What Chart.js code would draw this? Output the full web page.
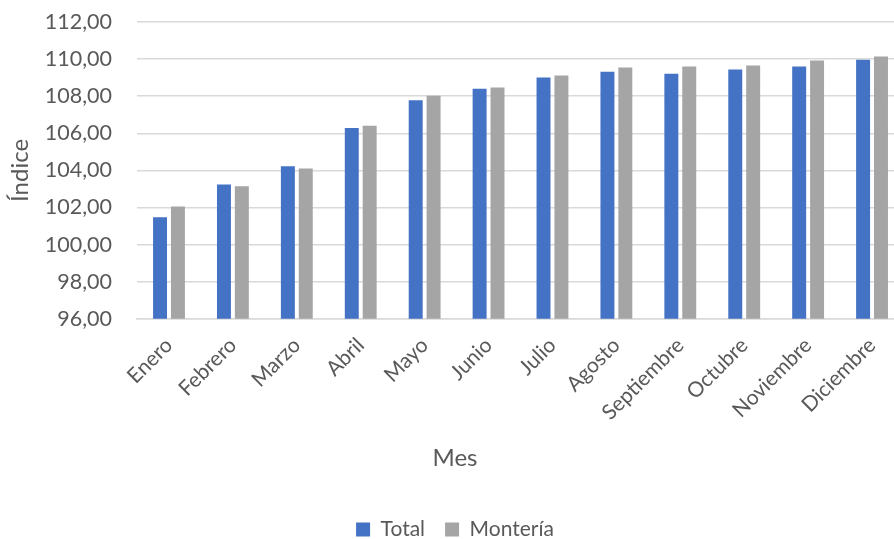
<!DOCTYPE html>
<html>
<head>
<meta charset="utf-8">
<script src="https://cdn.jsdelivr.net/npm/chart.js@4/dist/chart.umd.min.js"></script>
<style>
  html, body { margin: 0; padding: 0; background: #fff; overflow: hidden; }
  #wrap { width: 894px; height: 539px; overflow: hidden; }
</style>
</head>
<body>
<div id="wrap"><canvas id="grafico" width="912" height="539"></canvas></div>
<script>
const meses = ['Enero', 'Febrero', 'Marzo', 'Abril', 'Mayo', 'Junio', 'Julio',
    'Agosto', 'Septiembre', 'Octubre', 'Noviembre', 'Diciembre'];
const total = [101.48, 103.24, 104.23, 106.29, 107.78, 108.40, 109.01,
    109.32, 109.21, 109.44, 109.60, 109.96];
const monteria = [102.05, 103.15, 104.11, 106.41, 108.02, 108.47, 109.12,
    109.55, 109.60, 109.66, 109.93, 110.14];
const ejeY = { min: 96, max: 112, paso: 2 };

const fuente = 'Lato, "Open Sans", sans-serif';
const gris = '#595959';

function formatoIndice(value) {
    return value.toFixed(2).replace('.', ',');
}

const ctx = document.getElementById('grafico');

new Chart(ctx, {
    type: 'bar',
    data: {
        labels: meses,
        datasets: [
            { label: 'Total', data: total, backgroundColor: '#4472C4' },
            { label: 'Montería', data: monteria, backgroundColor: '#A5A5A5' }
        ]
    },
    options: {
        responsive: false,
        animation: false,
        categoryPercentage: 0.56,
        barPercentage: 0.78,
        layout: { padding: { top: 22, right: 8, left: 6, bottom: -11 } },
        plugins: {
            legend: {
                position: 'bottom',
                weight: 3000,
                labels: {
                    boxWidth: 14,
                    boxHeight: 14,
                    padding: 20,
                    color: gris,
                    font: { family: fuente, size: 21 }
                }
            },
            title: {
                display: true,
                text: 'Mes',
                position: 'bottom',
                weight: 100,
                color: gris,
                font: { family: fuente, size: 24, weight: 'normal' },
                padding: { top: 13, bottom: 26 }
            },
            tooltip: { enabled: false }
        },
        scales: {
            x: {
                grid: { display: false },
                border: { color: '#d9d9d9', width: 1.5 },
                ticks: {
                    color: gris,
                    font: { family: fuente, size: 21 },
                    minRotation: 45,
                    maxRotation: 45,
                    padding: 6
                },
                afterFit: scale => { scale.paddingLeft = 0; }
            },
            y: {
                min: ejeY.min,
                max: ejeY.max,
                border: { display: false },
                grid: { color: '#d9d9d9', lineWidth: 1.5, drawTicks: false },
                ticks: {
                    stepSize: ejeY.paso,
                    color: gris,
                    font: { family: fuente, size: 21.5 },
                    padding: 25,
                    callback: value => formatoIndice(value)
                },
                title: {
                    display: true,
                    text: 'Índice',
                    color: gris,
                    font: { family: fuente, size: 24 },
                    padding: { top: 0, bottom: 10 }
                },
                afterFit: scale => {
                    scale.paddingTop = 0;
                    scale.paddingBottom = 0;
                    scale.width -= 25;
                }
            }
        }
    }
});
</script>
</body>
</html>
